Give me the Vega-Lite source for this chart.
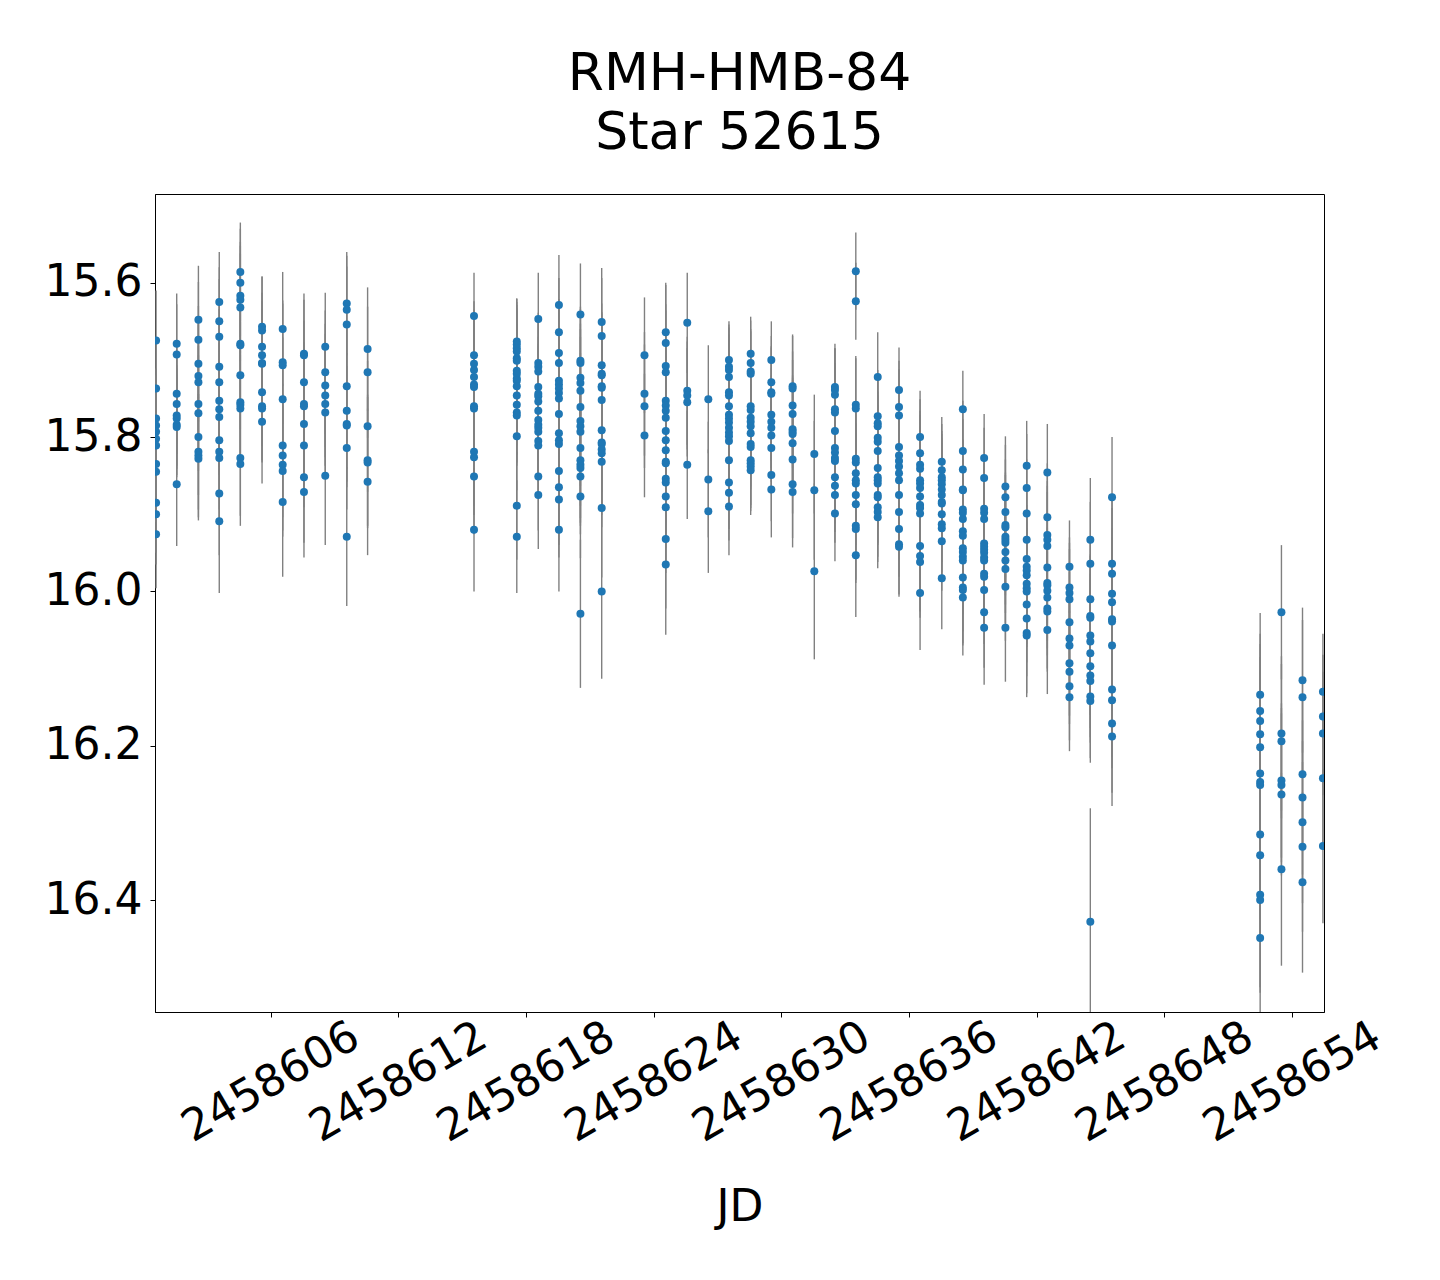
{
"$schema":"https://vega.github.io/schema/vega-lite/v6.json",
"width":1169,"height":818,
"autosize":{"type":"none"},
"padding":{"left":155,"top":194,"right":116,"bottom":268},
"background":"white",
"title":{"text":["RMH-HMB-84","Star 52615"],"fontSize":52,"fontWeight":"normal","lineHeight":59,"anchor":"middle","offset":34,"color":"black","font":"DejaVu Sans"},
"config":{"font":"DejaVu Sans","view":{"stroke":"black","strokeWidth":1},
"axis":{"domainColor":"black","tickColor":"black","labelColor":"black","titleColor":"black","grid":false,"labelFont":"DejaVu Sans","titleFont":"DejaVu Sans","labelLimit":0}},
"data":{"values":[
{"jd":2458600.62,"mag":15.675,"err":0.065},{"jd":2458600.62,"mag":15.737,"err":0.065},{"jd":2458600.62,"mag":15.776,"err":0.065},{"jd":2458600.62,"mag":15.785,"err":0.065},{"jd":2458600.62,"mag":15.793,"err":0.065},{"jd":2458600.62,"mag":15.802,"err":0.065},{"jd":2458600.62,"mag":15.811,"err":0.065},{"jd":2458600.62,"mag":15.835,"err":0.065},{"jd":2458600.62,"mag":15.845,"err":0.065},{"jd":2458600.62,"mag":15.885,"err":0.065},{"jd":2458600.62,"mag":15.900,"err":0.065},{"jd":2458600.62,"mag":15.926,"err":0.07},
{"jd":2458601.59,"mag":15.679,"err":0.065},{"jd":2458601.59,"mag":15.693,"err":0.065},{"jd":2458601.59,"mag":15.744,"err":0.065},{"jd":2458601.59,"mag":15.757,"err":0.065},{"jd":2458601.59,"mag":15.772,"err":0.065},{"jd":2458601.59,"mag":15.776,"err":0.065},{"jd":2458601.59,"mag":15.784,"err":0.065},{"jd":2458601.59,"mag":15.787,"err":0.065},{"jd":2458601.59,"mag":15.861,"err":0.08},
{"jd":2458602.61,"mag":15.648,"err":0.07},{"jd":2458602.61,"mag":15.674,"err":0.075},{"jd":2458602.61,"mag":15.705,"err":0.075},{"jd":2458602.61,"mag":15.721,"err":0.075},{"jd":2458602.61,"mag":15.729,"err":0.075},{"jd":2458602.61,"mag":15.757,"err":0.075},{"jd":2458602.61,"mag":15.769,"err":0.075},{"jd":2458602.61,"mag":15.800,"err":0.075},{"jd":2458602.61,"mag":15.819,"err":0.075},{"jd":2458602.61,"mag":15.824,"err":0.08},{"jd":2458602.61,"mag":15.828,"err":0.08},
{"jd":2458603.59,"mag":15.625,"err":0.065},{"jd":2458603.59,"mag":15.650,"err":0.07},{"jd":2458603.59,"mag":15.670,"err":0.075},{"jd":2458603.59,"mag":15.709,"err":0.075},{"jd":2458603.59,"mag":15.729,"err":0.075},{"jd":2458603.59,"mag":15.753,"err":0.075},{"jd":2458603.59,"mag":15.764,"err":0.075},{"jd":2458603.59,"mag":15.774,"err":0.075},{"jd":2458603.59,"mag":15.804,"err":0.075},{"jd":2458603.59,"mag":15.819,"err":0.075},{"jd":2458603.59,"mag":15.827,"err":0.08},{"jd":2458603.59,"mag":15.873,"err":0.08},{"jd":2458603.59,"mag":15.909,"err":0.093},
{"jd":2458604.58,"mag":15.586,"err":0.064},{"jd":2458604.58,"mag":15.600,"err":0.07},{"jd":2458604.58,"mag":15.617,"err":0.07},{"jd":2458604.58,"mag":15.622,"err":0.07},{"jd":2458604.58,"mag":15.632,"err":0.07},{"jd":2458604.58,"mag":15.679,"err":0.07},{"jd":2458604.58,"mag":15.681,"err":0.07},{"jd":2458604.58,"mag":15.720,"err":0.07},{"jd":2458604.58,"mag":15.755,"err":0.07},{"jd":2458604.58,"mag":15.758,"err":0.07},{"jd":2458604.58,"mag":15.763,"err":0.07},{"jd":2458604.58,"mag":15.827,"err":0.075},{"jd":2458604.58,"mag":15.835,"err":0.08},
{"jd":2458605.60,"mag":15.657,"err":0.065},{"jd":2458605.60,"mag":15.662,"err":0.07},{"jd":2458605.60,"mag":15.683,"err":0.07},{"jd":2458605.60,"mag":15.694,"err":0.07},{"jd":2458605.60,"mag":15.704,"err":0.07},{"jd":2458605.60,"mag":15.705,"err":0.07},{"jd":2458605.60,"mag":15.742,"err":0.07},{"jd":2458605.60,"mag":15.760,"err":0.07},{"jd":2458605.60,"mag":15.763,"err":0.07},{"jd":2458605.60,"mag":15.780,"err":0.08},
{"jd":2458606.57,"mag":15.660,"err":0.074},{"jd":2458606.57,"mag":15.703,"err":0.08},{"jd":2458606.57,"mag":15.707,"err":0.08},{"jd":2458606.57,"mag":15.751,"err":0.08},{"jd":2458606.57,"mag":15.811,"err":0.08},{"jd":2458606.57,"mag":15.824,"err":0.08},{"jd":2458606.57,"mag":15.836,"err":0.085},{"jd":2458606.57,"mag":15.844,"err":0.085},{"jd":2458606.57,"mag":15.884,"err":0.097},
{"jd":2458607.57,"mag":15.692,"err":0.07},{"jd":2458607.57,"mag":15.694,"err":0.08},{"jd":2458607.57,"mag":15.729,"err":0.08},{"jd":2458607.57,"mag":15.757,"err":0.08},{"jd":2458607.57,"mag":15.760,"err":0.08},{"jd":2458607.57,"mag":15.783,"err":0.08},{"jd":2458607.57,"mag":15.811,"err":0.08},{"jd":2458607.57,"mag":15.852,"err":0.085},{"jd":2458607.57,"mag":15.871,"err":0.085},
{"jd":2458608.57,"mag":15.683,"err":0.07},{"jd":2458608.57,"mag":15.716,"err":0.08},{"jd":2458608.57,"mag":15.733,"err":0.08},{"jd":2458608.57,"mag":15.746,"err":0.08},{"jd":2458608.57,"mag":15.757,"err":0.08},{"jd":2458608.57,"mag":15.768,"err":0.08},{"jd":2458608.57,"mag":15.850,"err":0.09},
{"jd":2458609.58,"mag":15.627,"err":0.067},{"jd":2458609.58,"mag":15.635,"err":0.07},{"jd":2458609.58,"mag":15.654,"err":0.075},{"jd":2458609.58,"mag":15.734,"err":0.075},{"jd":2458609.58,"mag":15.766,"err":0.075},{"jd":2458609.58,"mag":15.783,"err":0.075},{"jd":2458609.58,"mag":15.785,"err":0.08},{"jd":2458609.58,"mag":15.814,"err":0.08},{"jd":2458609.58,"mag":15.929,"err":0.09},
{"jd":2458610.56,"mag":15.686,"err":0.08},{"jd":2458610.56,"mag":15.716,"err":0.085},{"jd":2458610.56,"mag":15.786,"err":0.085},{"jd":2458610.56,"mag":15.830,"err":0.085},{"jd":2458610.56,"mag":15.833,"err":0.085},{"jd":2458610.56,"mag":15.858,"err":0.095},
{"jd":2458615.56,"mag":15.643,"err":0.056},{"jd":2458615.56,"mag":15.694,"err":0.07},{"jd":2458615.56,"mag":15.705,"err":0.07},{"jd":2458615.56,"mag":15.713,"err":0.07},{"jd":2458615.56,"mag":15.722,"err":0.07},{"jd":2458615.56,"mag":15.732,"err":0.07},{"jd":2458615.56,"mag":15.735,"err":0.07},{"jd":2458615.56,"mag":15.760,"err":0.07},{"jd":2458615.56,"mag":15.763,"err":0.07},{"jd":2458615.56,"mag":15.819,"err":0.07},{"jd":2458615.56,"mag":15.826,"err":0.075},{"jd":2458615.56,"mag":15.851,"err":0.075},{"jd":2458615.56,"mag":15.920,"err":0.08},
{"jd":2458617.57,"mag":15.676,"err":0.055},{"jd":2458617.57,"mag":15.680,"err":0.06},{"jd":2458617.57,"mag":15.685,"err":0.06},{"jd":2458617.57,"mag":15.689,"err":0.06},{"jd":2458617.57,"mag":15.698,"err":0.065},{"jd":2458617.57,"mag":15.701,"err":0.065},{"jd":2458617.57,"mag":15.714,"err":0.065},{"jd":2458617.57,"mag":15.718,"err":0.065},{"jd":2458617.57,"mag":15.724,"err":0.065},{"jd":2458617.57,"mag":15.727,"err":0.065},{"jd":2458617.57,"mag":15.734,"err":0.065},{"jd":2458617.57,"mag":15.746,"err":0.065},{"jd":2458617.57,"mag":15.758,"err":0.065},{"jd":2458617.57,"mag":15.768,"err":0.065},{"jd":2458617.57,"mag":15.772,"err":0.065},{"jd":2458617.57,"mag":15.799,"err":0.07},{"jd":2458617.57,"mag":15.889,"err":0.07},{"jd":2458617.57,"mag":15.929,"err":0.073},
{"jd":2458618.58,"mag":15.647,"err":0.06},{"jd":2458618.58,"mag":15.704,"err":0.065},{"jd":2458618.58,"mag":15.709,"err":0.065},{"jd":2458618.58,"mag":15.715,"err":0.065},{"jd":2458618.58,"mag":15.735,"err":0.065},{"jd":2458618.58,"mag":15.744,"err":0.065},{"jd":2458618.58,"mag":15.747,"err":0.065},{"jd":2458618.58,"mag":15.754,"err":0.065},{"jd":2458618.58,"mag":15.766,"err":0.065},{"jd":2458618.58,"mag":15.778,"err":0.065},{"jd":2458618.58,"mag":15.784,"err":0.065},{"jd":2458618.58,"mag":15.788,"err":0.065},{"jd":2458618.58,"mag":15.793,"err":0.065},{"jd":2458618.58,"mag":15.805,"err":0.065},{"jd":2458618.58,"mag":15.811,"err":0.065},{"jd":2458618.58,"mag":15.851,"err":0.07},{"jd":2458618.58,"mag":15.875,"err":0.07},
{"jd":2458619.55,"mag":15.629,"err":0.065},{"jd":2458619.55,"mag":15.664,"err":0.07},{"jd":2458619.55,"mag":15.691,"err":0.07},{"jd":2458619.55,"mag":15.704,"err":0.07},{"jd":2458619.55,"mag":15.727,"err":0.07},{"jd":2458619.55,"mag":15.732,"err":0.07},{"jd":2458619.55,"mag":15.737,"err":0.07},{"jd":2458619.55,"mag":15.743,"err":0.07},{"jd":2458619.55,"mag":15.750,"err":0.07},{"jd":2458619.55,"mag":15.770,"err":0.07},{"jd":2458619.55,"mag":15.795,"err":0.07},{"jd":2458619.55,"mag":15.804,"err":0.07},{"jd":2458619.55,"mag":15.809,"err":0.07},{"jd":2458619.55,"mag":15.844,"err":0.075},{"jd":2458619.55,"mag":15.865,"err":0.075},{"jd":2458619.55,"mag":15.881,"err":0.075},{"jd":2458619.55,"mag":15.920,"err":0.08},
{"jd":2458620.56,"mag":15.641,"err":0.066},{"jd":2458620.56,"mag":15.701,"err":0.07},{"jd":2458620.56,"mag":15.704,"err":0.07},{"jd":2458620.56,"mag":15.723,"err":0.07},{"jd":2458620.56,"mag":15.730,"err":0.07},{"jd":2458620.56,"mag":15.740,"err":0.07},{"jd":2458620.56,"mag":15.761,"err":0.07},{"jd":2458620.56,"mag":15.779,"err":0.07},{"jd":2458620.56,"mag":15.786,"err":0.07},{"jd":2458620.56,"mag":15.793,"err":0.07},{"jd":2458620.56,"mag":15.814,"err":0.075},{"jd":2458620.56,"mag":15.830,"err":0.075},{"jd":2458620.56,"mag":15.836,"err":0.075},{"jd":2458620.56,"mag":15.840,"err":0.075},{"jd":2458620.56,"mag":15.851,"err":0.075},{"jd":2458620.56,"mag":15.877,"err":0.08},{"jd":2458620.56,"mag":16.029,"err":0.096},
{"jd":2458621.56,"mag":15.651,"err":0.07},{"jd":2458621.56,"mag":15.669,"err":0.075},{"jd":2458621.56,"mag":15.707,"err":0.08},{"jd":2458621.56,"mag":15.718,"err":0.08},{"jd":2458621.56,"mag":15.720,"err":0.08},{"jd":2458621.56,"mag":15.734,"err":0.08},{"jd":2458621.56,"mag":15.736,"err":0.08},{"jd":2458621.56,"mag":15.752,"err":0.08},{"jd":2458621.56,"mag":15.791,"err":0.08},{"jd":2458621.56,"mag":15.807,"err":0.08},{"jd":2458621.56,"mag":15.809,"err":0.08},{"jd":2458621.56,"mag":15.816,"err":0.08},{"jd":2458621.56,"mag":15.821,"err":0.08},{"jd":2458621.56,"mag":15.832,"err":0.085},{"jd":2458621.56,"mag":15.892,"err":0.09},{"jd":2458621.56,"mag":16.000,"err":0.113},
{"jd":2458623.57,"mag":15.694,"err":0.075},{"jd":2458623.57,"mag":15.744,"err":0.08},{"jd":2458623.57,"mag":15.760,"err":0.08},{"jd":2458623.57,"mag":15.798,"err":0.08},
{"jd":2458624.57,"mag":15.664,"err":0.064},{"jd":2458624.57,"mag":15.678,"err":0.075},{"jd":2458624.57,"mag":15.708,"err":0.08},{"jd":2458624.57,"mag":15.716,"err":0.08},{"jd":2458624.57,"mag":15.753,"err":0.08},{"jd":2458624.57,"mag":15.759,"err":0.08},{"jd":2458624.57,"mag":15.766,"err":0.08},{"jd":2458624.57,"mag":15.775,"err":0.08},{"jd":2458624.57,"mag":15.792,"err":0.08},{"jd":2458624.57,"mag":15.804,"err":0.08},{"jd":2458624.57,"mag":15.817,"err":0.08},{"jd":2458624.57,"mag":15.832,"err":0.08},{"jd":2458624.57,"mag":15.834,"err":0.08},{"jd":2458624.57,"mag":15.854,"err":0.085},{"jd":2458624.57,"mag":15.859,"err":0.085},{"jd":2458624.57,"mag":15.877,"err":0.085},{"jd":2458624.57,"mag":15.891,"err":0.085},{"jd":2458624.57,"mag":15.932,"err":0.09},{"jd":2458624.57,"mag":15.965,"err":0.091},
{"jd":2458625.58,"mag":15.652,"err":0.065},{"jd":2458625.58,"mag":15.740,"err":0.07},{"jd":2458625.58,"mag":15.746,"err":0.07},{"jd":2458625.58,"mag":15.755,"err":0.07},{"jd":2458625.58,"mag":15.836,"err":0.07},
{"jd":2458626.57,"mag":15.751,"err":0.07},{"jd":2458626.57,"mag":15.855,"err":0.075},{"jd":2458626.57,"mag":15.896,"err":0.08},
{"jd":2458627.54,"mag":15.700,"err":0.05},{"jd":2458627.54,"mag":15.709,"err":0.055},{"jd":2458627.54,"mag":15.713,"err":0.055},{"jd":2458627.54,"mag":15.722,"err":0.055},{"jd":2458627.54,"mag":15.742,"err":0.055},{"jd":2458627.54,"mag":15.746,"err":0.055},{"jd":2458627.54,"mag":15.760,"err":0.06},{"jd":2458627.54,"mag":15.771,"err":0.06},{"jd":2458627.54,"mag":15.776,"err":0.06},{"jd":2458627.54,"mag":15.781,"err":0.06},{"jd":2458627.54,"mag":15.788,"err":0.06},{"jd":2458627.54,"mag":15.794,"err":0.06},{"jd":2458627.54,"mag":15.799,"err":0.06},{"jd":2458627.54,"mag":15.805,"err":0.06},{"jd":2458627.54,"mag":15.830,"err":0.06},{"jd":2458627.54,"mag":15.859,"err":0.06},{"jd":2458627.54,"mag":15.872,"err":0.062},{"jd":2458627.54,"mag":15.890,"err":0.063},
{"jd":2458628.56,"mag":15.692,"err":0.048},{"jd":2458628.56,"mag":15.704,"err":0.055},{"jd":2458628.56,"mag":15.715,"err":0.055},{"jd":2458628.56,"mag":15.718,"err":0.055},{"jd":2458628.56,"mag":15.760,"err":0.055},{"jd":2458628.56,"mag":15.765,"err":0.055},{"jd":2458628.56,"mag":15.775,"err":0.055},{"jd":2458628.56,"mag":15.780,"err":0.055},{"jd":2458628.56,"mag":15.786,"err":0.055},{"jd":2458628.56,"mag":15.795,"err":0.055},{"jd":2458628.56,"mag":15.809,"err":0.055},{"jd":2458628.56,"mag":15.813,"err":0.055},{"jd":2458628.56,"mag":15.830,"err":0.058},{"jd":2458628.56,"mag":15.834,"err":0.058},{"jd":2458628.56,"mag":15.838,"err":0.058},{"jd":2458628.56,"mag":15.843,"err":0.058},
{"jd":2458629.53,"mag":15.700,"err":0.05},{"jd":2458629.53,"mag":15.729,"err":0.06},{"jd":2458629.53,"mag":15.742,"err":0.06},{"jd":2458629.53,"mag":15.744,"err":0.06},{"jd":2458629.53,"mag":15.771,"err":0.06},{"jd":2458629.53,"mag":15.780,"err":0.06},{"jd":2458629.53,"mag":15.788,"err":0.06},{"jd":2458629.53,"mag":15.798,"err":0.06},{"jd":2458629.53,"mag":15.814,"err":0.06},{"jd":2458629.53,"mag":15.849,"err":0.06},{"jd":2458629.53,"mag":15.868,"err":0.062},
{"jd":2458630.53,"mag":15.734,"err":0.065},{"jd":2458630.53,"mag":15.737,"err":0.07},{"jd":2458630.53,"mag":15.759,"err":0.07},{"jd":2458630.53,"mag":15.770,"err":0.07},{"jd":2458630.53,"mag":15.790,"err":0.07},{"jd":2458630.53,"mag":15.793,"err":0.07},{"jd":2458630.53,"mag":15.796,"err":0.07},{"jd":2458630.53,"mag":15.808,"err":0.07},{"jd":2458630.53,"mag":15.829,"err":0.07},{"jd":2458630.53,"mag":15.861,"err":0.07},{"jd":2458630.53,"mag":15.871,"err":0.072},
{"jd":2458631.55,"mag":15.822,"err":0.077},{"jd":2458631.55,"mag":15.869,"err":0.09},{"jd":2458631.55,"mag":15.974,"err":0.114},
{"jd":2458632.52,"mag":15.735,"err":0.05},{"jd":2458632.52,"mag":15.739,"err":0.06},{"jd":2458632.52,"mag":15.745,"err":0.06},{"jd":2458632.52,"mag":15.764,"err":0.06},{"jd":2458632.52,"mag":15.768,"err":0.06},{"jd":2458632.52,"mag":15.792,"err":0.06},{"jd":2458632.52,"mag":15.814,"err":0.06},{"jd":2458632.52,"mag":15.820,"err":0.06},{"jd":2458632.52,"mag":15.827,"err":0.06},{"jd":2458632.52,"mag":15.831,"err":0.06},{"jd":2458632.52,"mag":15.852,"err":0.06},{"jd":2458632.52,"mag":15.863,"err":0.06},{"jd":2458632.52,"mag":15.875,"err":0.062},{"jd":2458632.52,"mag":15.899,"err":0.062},
{"jd":2458633.50,"mag":15.585,"err":0.05},{"jd":2458633.50,"mag":15.624,"err":0.05},{"jd":2458633.50,"mag":15.758,"err":0.063},{"jd":2458633.50,"mag":15.763,"err":0.065},{"jd":2458633.50,"mag":15.828,"err":0.065},{"jd":2458633.50,"mag":15.833,"err":0.065},{"jd":2458633.50,"mag":15.847,"err":0.065},{"jd":2458633.50,"mag":15.856,"err":0.065},{"jd":2458633.50,"mag":15.860,"err":0.065},{"jd":2458633.50,"mag":15.875,"err":0.065},{"jd":2458633.50,"mag":15.887,"err":0.07},{"jd":2458633.50,"mag":15.915,"err":0.07},{"jd":2458633.50,"mag":15.919,"err":0.07},{"jd":2458633.50,"mag":15.953,"err":0.08},
{"jd":2458634.53,"mag":15.722,"err":0.058},{"jd":2458634.53,"mag":15.773,"err":0.06},{"jd":2458634.53,"mag":15.782,"err":0.06},{"jd":2458634.53,"mag":15.786,"err":0.06},{"jd":2458634.53,"mag":15.801,"err":0.06},{"jd":2458634.53,"mag":15.806,"err":0.06},{"jd":2458634.53,"mag":15.818,"err":0.06},{"jd":2458634.53,"mag":15.840,"err":0.06},{"jd":2458634.53,"mag":15.852,"err":0.06},{"jd":2458634.53,"mag":15.856,"err":0.06},{"jd":2458634.53,"mag":15.860,"err":0.06},{"jd":2458634.53,"mag":15.875,"err":0.062},{"jd":2458634.53,"mag":15.878,"err":0.062},{"jd":2458634.53,"mag":15.891,"err":0.064},{"jd":2458634.53,"mag":15.897,"err":0.065},{"jd":2458634.53,"mag":15.904,"err":0.066},
{"jd":2458635.53,"mag":15.739,"err":0.055},{"jd":2458635.53,"mag":15.761,"err":0.06},{"jd":2458635.53,"mag":15.772,"err":0.06},{"jd":2458635.53,"mag":15.813,"err":0.06},{"jd":2458635.53,"mag":15.824,"err":0.06},{"jd":2458635.53,"mag":15.831,"err":0.06},{"jd":2458635.53,"mag":15.838,"err":0.06},{"jd":2458635.53,"mag":15.847,"err":0.06},{"jd":2458635.53,"mag":15.856,"err":0.06},{"jd":2458635.53,"mag":15.875,"err":0.06},{"jd":2458635.53,"mag":15.897,"err":0.062},{"jd":2458635.53,"mag":15.919,"err":0.062},{"jd":2458635.53,"mag":15.939,"err":0.065},{"jd":2458635.53,"mag":15.942,"err":0.065},
{"jd":2458636.52,"mag":15.800,"err":0.06},{"jd":2458636.52,"mag":15.821,"err":0.07},{"jd":2458636.52,"mag":15.836,"err":0.07},{"jd":2458636.52,"mag":15.841,"err":0.07},{"jd":2458636.52,"mag":15.856,"err":0.07},{"jd":2458636.52,"mag":15.860,"err":0.07},{"jd":2458636.52,"mag":15.866,"err":0.07},{"jd":2458636.52,"mag":15.877,"err":0.07},{"jd":2458636.52,"mag":15.888,"err":0.07},{"jd":2458636.52,"mag":15.892,"err":0.07},{"jd":2458636.52,"mag":15.899,"err":0.07},{"jd":2458636.52,"mag":15.941,"err":0.07},{"jd":2458636.52,"mag":15.954,"err":0.072},{"jd":2458636.52,"mag":15.962,"err":0.072},{"jd":2458636.52,"mag":16.002,"err":0.074},
{"jd":2458637.54,"mag":15.832,"err":0.058},{"jd":2458637.54,"mag":15.843,"err":0.06},{"jd":2458637.54,"mag":15.852,"err":0.06},{"jd":2458637.54,"mag":15.856,"err":0.06},{"jd":2458637.54,"mag":15.861,"err":0.06},{"jd":2458637.54,"mag":15.868,"err":0.06},{"jd":2458637.54,"mag":15.875,"err":0.06},{"jd":2458637.54,"mag":15.884,"err":0.06},{"jd":2458637.54,"mag":15.886,"err":0.06},{"jd":2458637.54,"mag":15.900,"err":0.062},{"jd":2458637.54,"mag":15.913,"err":0.062},{"jd":2458637.54,"mag":15.918,"err":0.062},{"jd":2458637.54,"mag":15.935,"err":0.064},{"jd":2458637.54,"mag":15.983,"err":0.066},
{"jd":2458638.53,"mag":15.764,"err":0.05},{"jd":2458638.53,"mag":15.818,"err":0.065},{"jd":2458638.53,"mag":15.842,"err":0.065},{"jd":2458638.53,"mag":15.868,"err":0.065},{"jd":2458638.53,"mag":15.869,"err":0.065},{"jd":2458638.53,"mag":15.894,"err":0.065},{"jd":2458638.53,"mag":15.898,"err":0.065},{"jd":2458638.53,"mag":15.906,"err":0.065},{"jd":2458638.53,"mag":15.922,"err":0.065},{"jd":2458638.53,"mag":15.928,"err":0.065},{"jd":2458638.53,"mag":15.944,"err":0.068},{"jd":2458638.53,"mag":15.949,"err":0.068},{"jd":2458638.53,"mag":15.955,"err":0.068},{"jd":2458638.53,"mag":15.960,"err":0.07},{"jd":2458638.53,"mag":15.982,"err":0.07},{"jd":2458638.53,"mag":15.995,"err":0.072},{"jd":2458638.53,"mag":15.998,"err":0.072},{"jd":2458638.53,"mag":16.008,"err":0.075},
{"jd":2458639.53,"mag":15.827,"err":0.057},{"jd":2458639.53,"mag":15.853,"err":0.065},{"jd":2458639.53,"mag":15.893,"err":0.065},{"jd":2458639.53,"mag":15.898,"err":0.065},{"jd":2458639.53,"mag":15.906,"err":0.065},{"jd":2458639.53,"mag":15.938,"err":0.065},{"jd":2458639.53,"mag":15.942,"err":0.065},{"jd":2458639.53,"mag":15.946,"err":0.065},{"jd":2458639.53,"mag":15.950,"err":0.065},{"jd":2458639.53,"mag":15.956,"err":0.068},{"jd":2458639.53,"mag":15.960,"err":0.068},{"jd":2458639.53,"mag":15.977,"err":0.07},{"jd":2458639.53,"mag":15.981,"err":0.07},{"jd":2458639.53,"mag":15.998,"err":0.07},{"jd":2458639.53,"mag":16.027,"err":0.072},{"jd":2458639.53,"mag":16.047,"err":0.074},
{"jd":2458640.53,"mag":15.864,"err":0.065},{"jd":2458640.53,"mag":15.878,"err":0.068},{"jd":2458640.53,"mag":15.897,"err":0.068},{"jd":2458640.53,"mag":15.914,"err":0.068},{"jd":2458640.53,"mag":15.917,"err":0.068},{"jd":2458640.53,"mag":15.929,"err":0.068},{"jd":2458640.53,"mag":15.933,"err":0.068},{"jd":2458640.53,"mag":15.937,"err":0.068},{"jd":2458640.53,"mag":15.949,"err":0.068},{"jd":2458640.53,"mag":15.960,"err":0.068},{"jd":2458640.53,"mag":15.971,"err":0.07},{"jd":2458640.53,"mag":15.994,"err":0.07},{"jd":2458640.53,"mag":16.047,"err":0.07},
{"jd":2458641.53,"mag":15.837,"err":0.058},{"jd":2458641.53,"mag":15.866,"err":0.07},{"jd":2458641.53,"mag":15.899,"err":0.07},{"jd":2458641.53,"mag":15.933,"err":0.07},{"jd":2458641.53,"mag":15.958,"err":0.07},{"jd":2458641.53,"mag":15.968,"err":0.07},{"jd":2458641.53,"mag":15.973,"err":0.07},{"jd":2458641.53,"mag":15.979,"err":0.07},{"jd":2458641.53,"mag":15.990,"err":0.072},{"jd":2458641.53,"mag":15.996,"err":0.072},{"jd":2458641.53,"mag":16.000,"err":0.072},{"jd":2458641.53,"mag":16.017,"err":0.075},{"jd":2458641.53,"mag":16.035,"err":0.075},{"jd":2458641.53,"mag":16.054,"err":0.078},{"jd":2458641.53,"mag":16.057,"err":0.08},
{"jd":2458642.50,"mag":15.846,"err":0.063},{"jd":2458642.50,"mag":15.904,"err":0.07},{"jd":2458642.50,"mag":15.927,"err":0.07},{"jd":2458642.50,"mag":15.933,"err":0.07},{"jd":2458642.50,"mag":15.941,"err":0.07},{"jd":2458642.50,"mag":15.969,"err":0.072},{"jd":2458642.50,"mag":15.989,"err":0.072},{"jd":2458642.50,"mag":15.992,"err":0.072},{"jd":2458642.50,"mag":15.999,"err":0.075},{"jd":2458642.50,"mag":16.008,"err":0.075},{"jd":2458642.50,"mag":16.022,"err":0.078},{"jd":2458642.50,"mag":16.026,"err":0.078},{"jd":2458642.50,"mag":16.050,"err":0.083},
{"jd":2458643.54,"mag":15.968,"err":0.06},{"jd":2458643.54,"mag":15.995,"err":0.065},{"jd":2458643.54,"mag":16.002,"err":0.065},{"jd":2458643.54,"mag":16.010,"err":0.065},{"jd":2458643.54,"mag":16.040,"err":0.065},{"jd":2458643.54,"mag":16.061,"err":0.067},{"jd":2458643.54,"mag":16.070,"err":0.067},{"jd":2458643.54,"mag":16.093,"err":0.068},{"jd":2458643.54,"mag":16.104,"err":0.068},{"jd":2458643.54,"mag":16.123,"err":0.07},{"jd":2458643.54,"mag":16.137,"err":0.07},
{"jd":2458644.52,"mag":15.933,"err":0.08},{"jd":2458644.52,"mag":15.964,"err":0.08},{"jd":2458644.52,"mag":16.010,"err":0.08},{"jd":2458644.52,"mag":16.032,"err":0.08},{"jd":2458644.52,"mag":16.034,"err":0.08},{"jd":2458644.52,"mag":16.057,"err":0.08},{"jd":2458644.52,"mag":16.065,"err":0.08},{"jd":2458644.52,"mag":16.080,"err":0.08},{"jd":2458644.52,"mag":16.097,"err":0.08},{"jd":2458644.52,"mag":16.109,"err":0.08},{"jd":2458644.52,"mag":16.116,"err":0.08},{"jd":2458644.52,"mag":16.136,"err":0.08},{"jd":2458644.52,"mag":16.142,"err":0.08},{"jd":2458644.52,"mag":16.428,"err":0.147},
{"jd":2458645.54,"mag":15.878,"err":0.078},{"jd":2458645.54,"mag":15.964,"err":0.085},{"jd":2458645.54,"mag":15.977,"err":0.085},{"jd":2458645.54,"mag":16.003,"err":0.085},{"jd":2458645.54,"mag":16.014,"err":0.085},{"jd":2458645.54,"mag":16.036,"err":0.085},{"jd":2458645.54,"mag":16.039,"err":0.085},{"jd":2458645.54,"mag":16.070,"err":0.085},{"jd":2458645.54,"mag":16.127,"err":0.088},{"jd":2458645.54,"mag":16.141,"err":0.088},{"jd":2458645.54,"mag":16.171,"err":0.09},{"jd":2458645.54,"mag":16.188,"err":0.09},
{"jd":2458652.50,"mag":16.134,"err":0.106},{"jd":2458652.50,"mag":16.155,"err":0.1},{"jd":2458652.50,"mag":16.168,"err":0.1},{"jd":2458652.50,"mag":16.185,"err":0.1},{"jd":2458652.50,"mag":16.202,"err":0.1},{"jd":2458652.50,"mag":16.236,"err":0.1},{"jd":2458652.50,"mag":16.247,"err":0.1},{"jd":2458652.50,"mag":16.251,"err":0.1},{"jd":2458652.50,"mag":16.315,"err":0.11},{"jd":2458652.50,"mag":16.342,"err":0.11},{"jd":2458652.50,"mag":16.393,"err":0.12},{"jd":2458652.50,"mag":16.400,"err":0.12},{"jd":2458652.50,"mag":16.449,"err":0.13},
{"jd":2458653.50,"mag":16.027,"err":0.087},{"jd":2458653.50,"mag":16.184,"err":0.1},{"jd":2458653.50,"mag":16.194,"err":0.1},{"jd":2458653.50,"mag":16.245,"err":0.1},{"jd":2458653.50,"mag":16.251,"err":0.1},{"jd":2458653.50,"mag":16.263,"err":0.105},{"jd":2458653.50,"mag":16.360,"err":0.125},
{"jd":2458654.49,"mag":16.115,"err":0.094},{"jd":2458654.49,"mag":16.137,"err":0.1},{"jd":2458654.49,"mag":16.237,"err":0.1},{"jd":2458654.49,"mag":16.267,"err":0.1},{"jd":2458654.49,"mag":16.299,"err":0.105},{"jd":2458654.49,"mag":16.331,"err":0.11},{"jd":2458654.49,"mag":16.377,"err":0.117},
{"jd":2458655.45,"mag":16.130,"err":0.075},{"jd":2458655.45,"mag":16.162,"err":0.08},{"jd":2458655.45,"mag":16.184,"err":0.08},{"jd":2458655.45,"mag":16.242,"err":0.085},{"jd":2458655.45,"mag":16.330,"err":0.1}
]},
"encoding":{
"x":{"field":"jd","type":"quantitative","scale":{"domain":[2458600.57,2458655.5],"nice":false,"zero":false},
"axis":{"values":[2458606,2458612,2458618,2458624,2458630,2458636,2458642,2458648,2458654],"format":"d","labelAngle":-30,"labelAlign":"center","labelBaseline":"middle","labelFontSize":44,"labelPadding":65,"labelOverlap":false,"labelFlush":false,"labelBound":false,"labelLimit":0,"tickSize":5,"title":"JD","titleFontSize":44,"titleFontWeight":"normal","titleBaseline":"alphabetic","titleY":208}},
"y":{"field":"mag","type":"quantitative","scale":{"domain":[15.485,16.545],"reverse":true,"nice":false,"zero":false},
"axis":{"values":[15.6,15.8,16.0,16.2,16.4],"format":".1f","labelFontSize":44,"labelPadding":8,"tickSize":5,"title":null,"labelOverlap":false,"labelFlush":false}}
},
"layer":[
{"mark":{"type":"errorbar","clip":true,"rule":{"stroke":"#808080","strokeWidth":1.4}},
 "encoding":{"yError":{"field":"err"}}},
{"mark":{"type":"point","filled":true,"shape":"circle","color":"#1f77b4","size":64,"opacity":1,"clip":true}}
]
}
